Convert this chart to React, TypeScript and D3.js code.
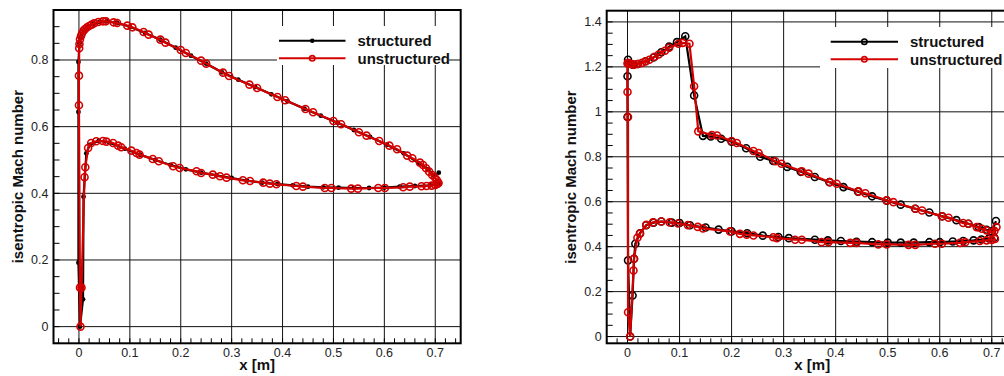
import React from "react";
import * as d3 from "d3";

type Pt = [number, number];

// left panel (subsonic), x [m] vs isentropic Mach
const leftStructured: Pt[] = [
  [0.707, 0.462], [0.698, 0.452], [0.686, 0.472], [0.668, 0.49], [0.638, 0.52],
  [0.605, 0.546], [0.572, 0.569], [0.54, 0.59], [0.508, 0.612], [0.475, 0.633],
  [0.443, 0.654], [0.41, 0.676], [0.378, 0.697], [0.346, 0.719], [0.313, 0.741],
  [0.281, 0.763], [0.25, 0.789], [0.22, 0.813], [0.19, 0.837], [0.16, 0.861],
  [0.13, 0.881], [0.1, 0.9], [0.075, 0.911], [0.055, 0.916], [0.04, 0.914],
  [0.028, 0.908], [0.018, 0.9], [0.011, 0.891], [0.006, 0.879], [0.003, 0.865],
  [0.001, 0.85], [-0.001, 0.794], [-0.001, 0.644], [-0.001, 0.192], [0.002, 0.0],
  [0.008, 0.082], [0.009, 0.39], [0.0145, 0.52], [0.021, 0.545], [0.039, 0.558],
  [0.06, 0.552], [0.09, 0.534], [0.12, 0.516], [0.15, 0.5], [0.18, 0.485],
  [0.21, 0.472], [0.24, 0.462], [0.27, 0.454], [0.3, 0.446], [0.33, 0.438],
  [0.36, 0.432], [0.39, 0.428], [0.42, 0.424], [0.45, 0.42], [0.48, 0.418],
  [0.51, 0.417], [0.54, 0.416], [0.57, 0.416], [0.6, 0.417], [0.63, 0.42],
  [0.66, 0.422], [0.69, 0.424], [0.705, 0.428],
];

const leftUnstructured: Pt[] = [
  [0.706, 0.432], [0.703, 0.44], [0.699, 0.448], [0.694, 0.455], [0.688, 0.465],
  [0.682, 0.475], [0.676, 0.485], [0.67, 0.492], [0.655, 0.505], [0.645, 0.513],
  [0.625, 0.532], [0.61, 0.543], [0.59, 0.557], [0.565, 0.573], [0.55, 0.583],
  [0.515, 0.607], [0.5, 0.617], [0.46, 0.643], [0.445, 0.653], [0.405, 0.679],
  [0.39, 0.689], [0.35, 0.716], [0.335, 0.726], [0.295, 0.752], [0.283, 0.762],
  [0.25, 0.789], [0.24, 0.798], [0.21, 0.821], [0.2, 0.83], [0.17, 0.852],
  [0.16, 0.861], [0.137, 0.876], [0.127, 0.884], [0.105, 0.898], [0.095, 0.903],
  [0.075, 0.911], [0.068, 0.913], [0.053, 0.916], [0.047, 0.916], [0.038, 0.914],
  [0.03, 0.91], [0.025, 0.906], [0.02, 0.902], [0.016, 0.898], [0.012, 0.893],
  [0.009, 0.888], [0.006, 0.88], [0.004, 0.872], [0.002, 0.862], [0.001, 0.848],
  [0.0005, 0.835], [0.0, 0.753], [0.0, 0.664], [0.002, 0.117], [0.003, 0.0],
  [0.005, 0.117], [0.011, 0.448], [0.0125, 0.478], [0.018, 0.536], [0.024, 0.551],
  [0.034, 0.556], [0.047, 0.557], [0.054, 0.555], [0.067, 0.551], [0.077, 0.543],
  [0.083, 0.538], [0.103, 0.528], [0.113, 0.521], [0.119, 0.516], [0.145, 0.503],
  [0.157, 0.496], [0.185, 0.481], [0.198, 0.476], [0.231, 0.466], [0.24, 0.461],
  [0.263, 0.456], [0.277, 0.451], [0.29, 0.447], [0.322, 0.439], [0.336, 0.437],
  [0.362, 0.432], [0.375, 0.429], [0.388, 0.427], [0.427, 0.422], [0.44, 0.42],
  [0.483, 0.416], [0.496, 0.416], [0.535, 0.414], [0.548, 0.414], [0.588, 0.416],
  [0.601, 0.416], [0.637, 0.418], [0.65, 0.42], [0.673, 0.421], [0.683, 0.422],
  [0.693, 0.423], [0.7, 0.425], [0.704, 0.428], [0.706, 0.43],
];

// right panel (transonic)
const rightStructured: Pt[] = [
  [0.708, 0.514], [0.7, 0.468], [0.69, 0.475], [0.675, 0.487], [0.655, 0.502],
  [0.632, 0.518], [0.605, 0.535], [0.58, 0.552], [0.553, 0.569], [0.525, 0.587],
  [0.498, 0.605], [0.47, 0.624], [0.443, 0.645], [0.415, 0.665], [0.388, 0.687],
  [0.36, 0.71], [0.333, 0.733], [0.307, 0.755], [0.28, 0.781], [0.255, 0.8],
  [0.228, 0.838], [0.2, 0.867], [0.18, 0.88], [0.16, 0.89], [0.145, 0.893],
  [0.128, 1.073], [0.111, 1.336], [0.095, 1.31], [0.08, 1.29], [0.065, 1.265],
  [0.05, 1.242], [0.035, 1.225], [0.02, 1.213], [0.01, 1.21], [0.004, 1.215],
  [0.001, 1.232], [0.0, 1.158], [0.0, 0.977], [0.001, 0.339], [0.005, 0.0],
  [0.0097, 0.183], [0.0125, 0.346], [0.015, 0.413], [0.024, 0.46], [0.036, 0.495],
  [0.05, 0.507], [0.065, 0.512], [0.085, 0.507], [0.1, 0.505], [0.12, 0.495],
  [0.15, 0.485], [0.175, 0.476], [0.2, 0.468], [0.23, 0.46], [0.26, 0.449],
  [0.29, 0.443], [0.31, 0.438], [0.36, 0.431], [0.385, 0.428], [0.41, 0.425],
  [0.44, 0.422], [0.47, 0.42], [0.5, 0.418], [0.525, 0.418], [0.55, 0.418],
  [0.58, 0.42], [0.6, 0.42], [0.625, 0.423], [0.645, 0.425], [0.665, 0.428],
  [0.68, 0.432], [0.695, 0.437], [0.705, 0.44],
];

const rightUnstructured: Pt[] = [
  [0.709, 0.487], [0.705, 0.47], [0.7, 0.462], [0.69, 0.472], [0.681, 0.48],
  [0.671, 0.487], [0.655, 0.502], [0.645, 0.505], [0.617, 0.529], [0.604, 0.535],
  [0.566, 0.561], [0.553, 0.569], [0.511, 0.598], [0.498, 0.606], [0.457, 0.638],
  [0.444, 0.646], [0.402, 0.68], [0.389, 0.687], [0.348, 0.725], [0.335, 0.735],
  [0.296, 0.769], [0.284, 0.78], [0.252, 0.817], [0.242, 0.826], [0.21, 0.861],
  [0.2, 0.87], [0.172, 0.895], [0.162, 0.897], [0.136, 0.913], [0.128, 1.114],
  [0.119, 1.303], [0.106, 1.307], [0.098, 1.303], [0.08, 1.285], [0.072, 1.272],
  [0.06, 1.255], [0.052, 1.245], [0.042, 1.232], [0.035, 1.225], [0.028, 1.218],
  [0.02, 1.213], [0.013, 1.21], [0.008, 1.212], [0.004, 1.215], [0.001, 1.218],
  [0.0, 1.215], [0.0, 1.088], [0.001, 0.977], [0.001, 0.108], [0.005, 0.0],
  [0.0115, 0.294], [0.0125, 0.346], [0.019, 0.44], [0.024, 0.458], [0.036, 0.497],
  [0.049, 0.508], [0.065, 0.512], [0.081, 0.508], [0.097, 0.503], [0.116, 0.496],
  [0.135, 0.488], [0.145, 0.481], [0.197, 0.468], [0.216, 0.457], [0.229, 0.453],
  [0.242, 0.45], [0.28, 0.442], [0.287, 0.438], [0.322, 0.431], [0.335, 0.431],
  [0.373, 0.42], [0.386, 0.42], [0.428, 0.417], [0.44, 0.417], [0.482, 0.41],
  [0.498, 0.41], [0.54, 0.408], [0.553, 0.408], [0.591, 0.413], [0.604, 0.413],
  [0.639, 0.417], [0.649, 0.42], [0.677, 0.425], [0.69, 0.428], [0.7, 0.43],
  [0.706, 0.434],
];

const xTicks = [0, 0.1, 0.2, 0.3, 0.4, 0.5, 0.6, 0.7];
const leftYTicks = [0, 0.2, 0.4, 0.6, 0.8];
const rightYTicks = [0, 0.2, 0.4, 0.6, 0.8, 1, 1.2, 1.4];
const seriesNames = ["structured", "unstructured"];

const RED = "#d40000";
const FONT = "'Liberation Sans', Arial, Helvetica, sans-serif";

type PanelProps = {
  left: number; right: number; top: number; bottom: number;
  xDomain: [number, number]; yDomain: [number, number];
  yTicks: number[];
  structured: Pt[]; unstructured: Pt[];
  filledDots: boolean;
  legend: { x0: number; x1: number; y0: number; y1: number; lx: number; tx: number };
  yLabelX: number;
  clipId: string;
};

const fmt = (v: number) => String(+v.toFixed(2));

const Panel: React.FC<PanelProps> = p => {
  const x = d3.scaleLinear().domain(p.xDomain).range([p.left, p.right]);
  const y = d3.scaleLinear().domain(p.yDomain).range([p.bottom, p.top]);
  const line = d3.line<Pt>().x(d => x(d[0])).y(d => y(d[1]));

  const xMinor = d3.range(Math.ceil(p.xDomain[0] / 0.02), Math.floor(p.xDomain[1] / 0.02) + 1).map(i => i * 0.02);
  const yMinor = d3.range(Math.ceil(p.yDomain[0] / 0.05), Math.floor(p.yDomain[1] / 0.05) + 1).map(i => i * 0.05);

  const blackMarker = (d: Pt, i: number) =>
    p.filledDots ? (
      <circle key={i} cx={x(d[0])} cy={y(d[1])} r={2.4} fill="#000" />
    ) : (
      <circle key={i} cx={x(d[0])} cy={y(d[1])} r={3.5} fill="none" stroke="#000" strokeWidth={1.6} />
    );
  const redMarker = (d: Pt, i: number) => (
    <circle key={i} cx={x(d[0])} cy={y(d[1])} r={3.5} fill="none" stroke={RED} strokeWidth={1.6} />
  );

  const lg = p.legend;
  const ly = [lg.y0 + 14.7, lg.y0 + 32.3];
  const mx = (lg.lx + lg.tx - 12) / 2;

  return (
    <g>
      <defs>
        <clipPath id={p.clipId}>
          <rect x={p.left} y={p.top} width={p.right - p.left} height={p.bottom - p.top} />
        </clipPath>
      </defs>
      <rect x={p.left} y={p.top} width={p.right - p.left} height={p.bottom - p.top} fill="#fff" />
      {/* grid */}
      {xTicks.map(t => (
        <line key={"gx" + t} x1={x(t)} x2={x(t)} y1={p.top} y2={p.bottom} stroke="#111" strokeWidth={1} />
      ))}
      {p.yTicks.map(t => (
        <line key={"gy" + t} x1={p.left} x2={p.right} y1={y(t)} y2={y(t)} stroke="#111" strokeWidth={1} />
      ))}
      {/* minor ticks */}
      {xMinor.map((t, i) => (
        <line key={"mx" + i} x1={x(t)} x2={x(t)} y1={p.bottom} y2={p.bottom - 5} stroke="#000" strokeWidth={1} />
      ))}
      {yMinor.map((t, i) => (
        <line key={"my" + i} x1={p.left} x2={p.left + 6} y1={y(t)} y2={y(t)} stroke="#000" strokeWidth={1} />
      ))}
      {/* legend box */}
      <rect x={lg.x0} y={lg.y0} width={lg.x1 - lg.x0} height={lg.y1 - lg.y0} fill="#fff" />
      <g clipPath={`url(#${p.clipId})`}>
        <path d={line(p.structured) ?? ""} fill="none" stroke="#000" strokeWidth={2.2} />
        {p.structured.map(blackMarker)}
        <path d={line(p.unstructured) ?? ""} fill="none" stroke={RED} strokeWidth={2.2} />
        {p.unstructured.map(redMarker)}
      </g>
      {/* legend */}
      <line x1={lg.lx} x2={lg.tx - 12} y1={ly[0]} y2={ly[0]} stroke="#000" strokeWidth={2} />
      {p.filledDots ? (
        <circle cx={mx} cy={ly[0]} r={2.3} fill="#000" />
      ) : (
        <circle cx={mx} cy={ly[0]} r={2.7} fill="none" stroke="#000" strokeWidth={1.6} />
      )}
      <line x1={lg.lx} x2={lg.tx - 12} y1={ly[1]} y2={ly[1]} stroke={RED} strokeWidth={2} />
      <circle cx={mx} cy={ly[1]} r={2.7} fill="none" stroke={RED} strokeWidth={1.6} />
      {seriesNames.map((s, i) => (
        <text key={s} x={lg.tx} y={ly[i] + 5.5} fontFamily={FONT} fontWeight="bold" fontSize={15} fill="#111">
          {s}
        </text>
      ))}
      {/* frame */}
      <rect x={p.left} y={p.top} width={p.right - p.left} height={p.bottom - p.top} fill="none" stroke="#000" strokeWidth={2} />
      {/* tick labels */}
      {xTicks.map(t => (
        <text key={"lx" + t} x={x(t)} y={p.bottom + 14} textAnchor="middle" fontFamily={FONT} fontSize={12.5} fill="#222">
          {fmt(t)}
        </text>
      ))}
      {p.yTicks.map(t => (
        <text key={"ly" + t} x={p.left - 5} y={y(t) + 4.4} textAnchor="end" fontFamily={FONT} fontSize={12.5} fill="#222">
          {fmt(t)}
        </text>
      ))}
      <text x={(p.left + p.right) / 2} y={p.bottom + 27} textAnchor="middle" fontFamily={FONT} fontWeight="bold" fontSize={15} fill="#111">
        x [m]
      </text>
      <text
        transform={`translate(${p.yLabelX},${(p.top + p.bottom) / 2}) rotate(-90)`}
        textAnchor="middle"
        dy="0.36em"
        fontFamily={FONT}
        fontWeight="bold"
        fontSize={15}
        fill="#111"
      >
        isentropic Mach number
      </text>
    </g>
  );
};

export default function App() {
  return (
    <svg width={1004} height={376} style={{ position: "absolute", left: 0, top: 0, background: "#fff" }}>
      <rect width={1004} height={376} fill="#fff" />
      <Panel
        left={53.5} right={460.7} top={10} bottom={343.3}
        xDomain={[-0.05, 0.75]} yDomain={[-0.05, 0.95]}
        yTicks={leftYTicks}
        structured={leftStructured} unstructured={leftUnstructured}
        filledDots={true}
        legend={{ x0: 277, x1: 449, y0: 26, y1: 65, lx: 279, tx: 357.5 }}
        yLabelX={17.5}
        clipId="clipL"
      />
      <Panel
        left={606.7} right={1017.8} top={10.7} bottom={343.3}
        xDomain={[-0.04, 0.75]} yDomain={[-0.03, 1.45]}
        yTicks={rightYTicks}
        structured={rightStructured} unstructured={rightUnstructured}
        filledDots={false}
        legend={{ x0: 820, x1: 1030, y0: 27, y1: 68, lx: 830.7, tx: 910 }}
        yLabelX={570.5}
        clipId="clipR"
      />
    </svg>
  );
}
